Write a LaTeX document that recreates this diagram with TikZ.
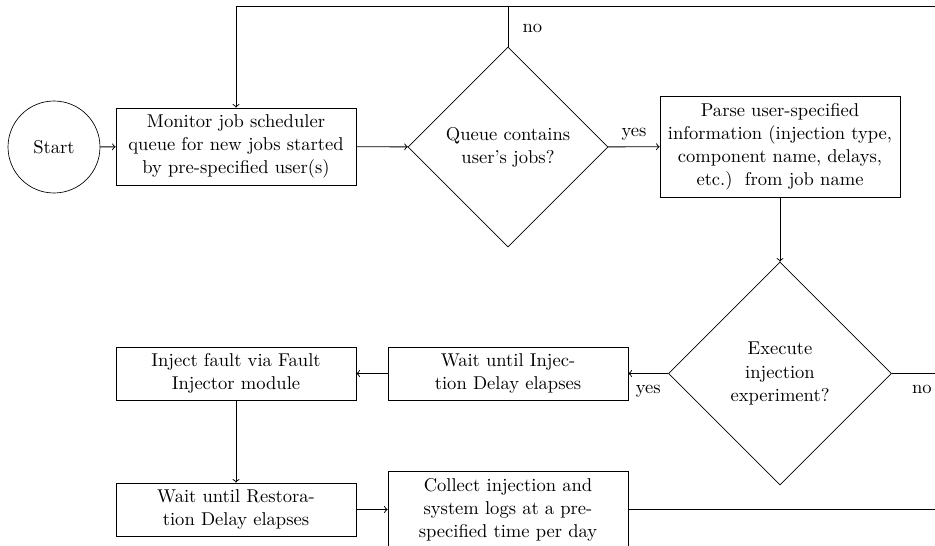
\documentclass[tikz,border=0pt]{standalone}
\usetikzlibrary{shapes.geometric,calc}

\tikzset{
  proc/.style={draw, rectangle, align=center, inner sep=0pt, minimum width=141.7pt},
  twoline/.style={proc, minimum height=31.3pt},
  threeline/.style={proc, minimum height=45.5pt},
  fourline/.style={proc, minimum height=59.6pt},
  decide/.style={draw, diamond, aspect=1, align=center, inner sep=0pt},
  startnode/.style={draw, circle, inner sep=0pt, minimum size=54.3pt},
  flow/.style={->, >=to, line width=0.55pt},
  rail/.style={-, line width=0.55pt},
  lowlabel/.style={below, yshift=-3pt}
}

\begin{document}
\begin{tikzpicture}[x=0.5903pt, y=-0.5903pt, font=\fontsize{10.95}{13.6}\selectfont]
  % page frame (units are pixels of the final image, y pointing down)
  \useasboundingbox (0,0) rectangle (935,546);
  \clip (0,0) rectangle (935,546);

  % nodes
  \node[startnode] (start) at (54,147) {Start};
  \node[threeline] (monitor) at (236,146.5)
    {Monitor job scheduler\\queue for new jobs started\\by pre-specified user(s)};
  \node[decide, minimum width=118.1pt, minimum height=118.1pt] (queue) at (508,147)
    {Queue contains\\user's jobs?};
  \node[fourline] (parse) at (780,146.5)
    {Parse user-specified\\information (injection type,\\component name, delays,\\etc.)\ \ from job name};
  \node[decide, minimum width=131.6pt, minimum height=131.6pt] (execute) at (780,373.5)
    {Execute\\injection\\experiment?};
  \node[twoline] (waitinj) at (508,373.5) {Wait until Injec-\\tion Delay elapses};
  \node[twoline] (inject) at (236,373.5) {Inject fault via Fault\\Injector module};
  \node[twoline] (waitrest) at (236,509.5) {Wait until Restora-\\tion Delay elapses};
  \node[threeline] (collect) at (508,509.5)
    {Collect injection and\\system logs at a pre-\\specified time per day};

  % return rail running along the top and down the right side
  \coordinate (railtop) at (952,6);
  \coordinate (topleft) at (236,6);

  % connectors
  \draw[flow] (start) -- (monitor);
  \draw[flow] (monitor) -- (queue);
  \draw[flow] (queue) -- node[above] {yes} (parse);
  \draw[rail] (queue.north) -- node[right, xshift=5pt, yshift=-1pt] {no} (queue.north |- railtop);
  \draw[flow] (railtop) -- (topleft) -- (monitor.north);
  \draw[flow] (parse) -- (execute);
  \draw[flow] (execute) -- node[lowlabel] {yes} (waitinj);
  \draw[rail] (execute.east) -- node[lowlabel] {no} (execute.east -| railtop);
  \draw[flow] (waitinj) -- (inject);
  \draw[flow] (inject) -- (waitrest);
  \draw[flow] (waitrest) -- (collect);
  \draw[rail] (collect.east) -- (collect.east -| railtop) -- (railtop);
\end{tikzpicture}
\end{document}
